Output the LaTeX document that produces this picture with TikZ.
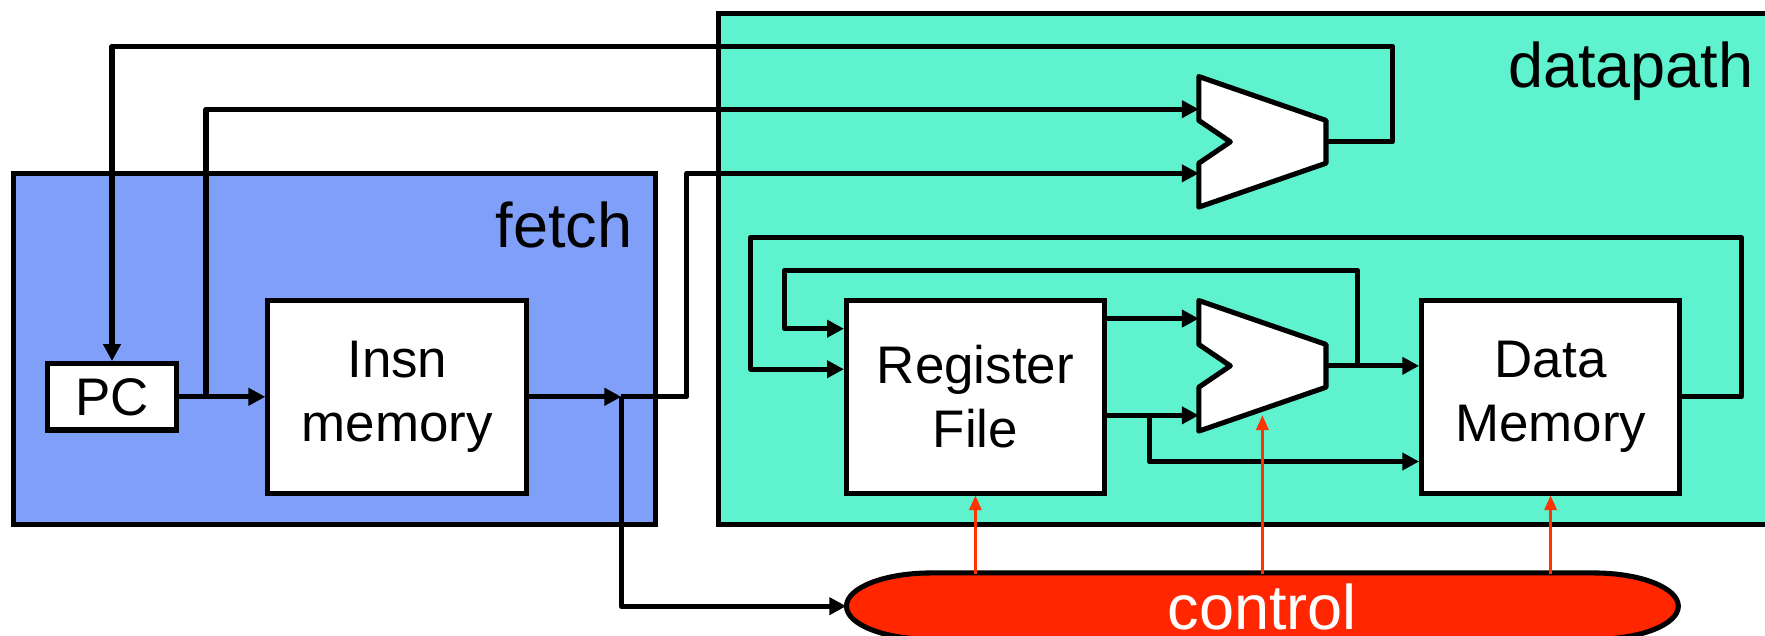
\documentclass[tikz,border=0pt]{standalone}
\usepackage{fontspec}
\setmainfont{Liberation Sans}
\usetikzlibrary{arrows.meta,calc}
\definecolor{fetchblue}{RGB}{128,159,248}
\definecolor{dpgreen}{RGB}{94,243,206}
\definecolor{ctrlred}{RGB}{255,38,0}
\definecolor{sigred}{RGB}{255,51,0}
\begin{document}
\begin{tikzpicture}[x=1pt,y=-1pt,
  wire/.style={line width=4.5pt, line join=round},
  arr/.style={wire, -{Triangle[length=15pt,width=15pt]}},
  sig/.style={draw=sigred, line width=2pt, -{Triangle[length=13pt,width=11pt]}},
  blockbox/.style={draw, line width=4.5pt, fill=white, inner sep=0pt, align=center, font=\fontsize{47}{57}\selectfont},
  regionbox/.style={draw, line width=4.5pt, inner sep=0pt},
  lbl/.style={inner sep=0pt, font=\fontsize{56}{60}\selectfont},
  alu/.style={draw, line width=4.5pt, fill=white, line join=round}
]
\useasboundingbox (0,0) rectangle (1568,565);
\clip (0,0) rectangle (1568,565);

% regions
\node[regionbox, fill=fetchblue, minimum width=570pt, minimum height=312pt] (fetch) at (297,310) {};
\node[regionbox, fill=dpgreen, minimum width=962pt, minimum height=454pt] (datapath) at (1119,239) {};
\node[lbl, anchor=base east] (fetchlbl) at (562,220) {fetch};
\node[lbl, anchor=base east] (dplbl) at (1558,78) {datapath};

% coordinates
\coordinate (a1in1) at (1065,97);
\coordinate (a1in2) at (1065,154);
\coordinate (a1out) at (1178,126);
\coordinate (a2in1) at (1065,283);
\coordinate (a2in2) at (1065,369);
\coordinate (a2out) at (1178,325);
\coordinate (a2ctl) at (1121.5,369);
\coordinate (tap) at (183,352.5);
\coordinate (junc) at (552,352.5);
\coordinate (b1) at (1206,325);
\coordinate (b2) at (1021,369);
\coordinate (row410) at (0,410);
\coordinate (row292) at (0,292);
\coordinate (row328) at (0,328);
\coordinate (row538) at (0,538.5);

% control shape (drawn first), then its node
\draw[line width=4.5pt, fill=ctrlred] (827,509) -- (1416,509)
  arc[start angle=90,end angle=-90,x radius=75pt,y radius=29.5pt] -- (827,568)
  arc[start angle=270,end angle=90,x radius=75pt,y radius=29.5pt] -- cycle;
\node[inner sep=0pt, minimum width=739pt, minimum height=52pt, text height=47pt, text depth=0pt,
  text=white, font=\fontsize{56}{60}\selectfont] (control) at (1121.5,536) {control};

% blocks
\node[blockbox, minimum width=115pt, minimum height=59pt] (pc) at (99.5,352.5) {PC};
\node[blockbox, minimum width=230pt, minimum height=171pt] (insn) at (353,352.5) {Insn\\memory};
\node[blockbox, minimum width=229pt, minimum height=171pt] (rf) at (866.5,352.5) {Register\\File};
\node[blockbox, minimum width=229pt, minimum height=171pt] (dm) at (1377.5,352.5) {Data\\Memory};

% wires
\draw[arr] (pc.east) -- (insn.west);
\draw[arr] (tap) |- (a1in1);
\draw[arr] (a1out) -| (1237,41) -| (pc.north);
\draw[arr] (insn.east) -- (junc);
\draw[arr] (junc) -- (610,352.5) |- (a1in2);
\draw[arr] (junc) |- (control.west |- row538);
\draw[arr] (rf.east |- a2in1) -- (a2in1);
\draw[arr] (rf.east |- a2in2) -- (a2in2);
\draw[arr] (b2) |- (dm.west |- row410);
\draw[arr] (a2out) -- (dm.west |- a2out);
\draw[arr] (b1) |- (697,240) |- (rf.west |- row292);
\draw[arr] (dm.east) -| (1547,211) -| (667,328) -- (rf.west |- row328);

% ALUs
\draw[alu] (1065,68) -- (1178,107) -- (1178,145) -- (1065,184) -- (1065,145) -- (1093,126) -- (1065,107) -- cycle;
\draw[alu] (1065,267) -- (1178,306) -- (1178,344) -- (1065,383) -- (1065,344) -- (1093,325) -- (1065,306) -- cycle;

% control signals
\draw[sig] (rf.south |- control.north) -- (rf.south);
\draw[sig] (control.north) -- (a2ctl);
\draw[sig] (dm.south |- control.north) -- (dm.south);
\end{tikzpicture}
\end{document}
